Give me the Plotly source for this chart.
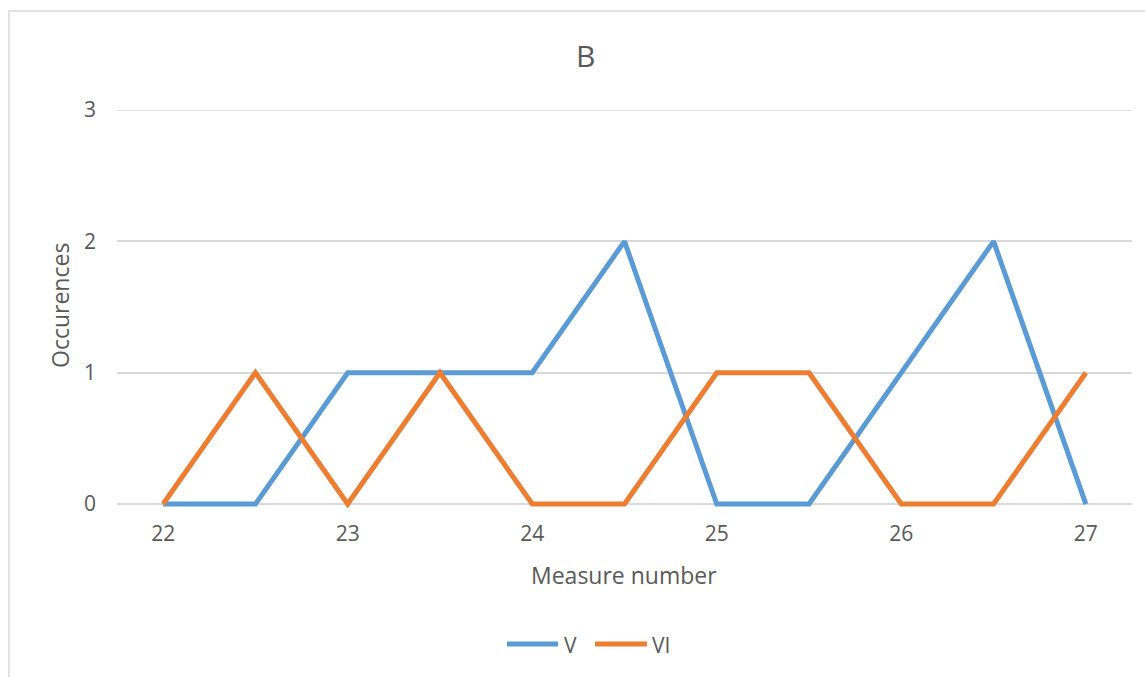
import plotly.graph_objects as go

# Measure positions (half-measure steps) and occurrence counts per chord
measures = [22, 22.5, 23, 23.5, 24, 24.5, 25, 25.5, 26, 26.5, 27]
v_counts = [0, 0, 1, 1, 1, 2, 0, 0, 1, 2, 0]
vi_counts = [0, 1, 0, 1, 0, 0, 1, 1, 0, 0, 1]
x_ticks = [22, 23, 24, 25, 26, 27]
y_ticks = [0, 1, 2, 3]

BLUE = "#5B9BD5"
ORANGE = "#ED7D31"
TEXT = "#595959"
GRID = "#D9D9D9"
FONT = "Open Sans"

W, H = 1145, 677
L, R, T, B = 117, 13, 110, 169
PW, PH = W - L - R, H - T - B


def px(x):
    return (x - L) / PW


def py(y):
    return (H - B - y) / PH


fig = go.Figure()
fig.add_trace(go.Scatter(x=measures, y=v_counts, mode="lines", name="V",
                         line=dict(color=BLUE, width=5)))
fig.add_trace(go.Scatter(x=measures, y=vi_counts, mode="lines", name="VI",
                         line=dict(color=ORANGE, width=5)))

shapes = [
    # chart-area border
    dict(type="rect", xref="paper", yref="paper", x0=px(9), x1=px(1200),
         y0=py(720), y1=py(11), line=dict(color=GRID, width=1.5), layer="below"),
    # legend samples
    dict(type="line", xref="paper", yref="paper", x0=px(507), x1=px(558),
         y0=py(644), y1=py(644), line=dict(color=BLUE, width=5)),
    dict(type="line", xref="paper", yref="paper", x0=px(595), x1=px(647),
         y0=py(644), y1=py(644), line=dict(color=ORANGE, width=5)),
]
# gridlines at the ends of the value range
for yv in (y_ticks[0], y_ticks[-1]):
    shapes.append(dict(type="line", xref="paper", yref="y", x0=0, x1=1,
                       y0=yv, y1=yv, line=dict(color=GRID, width=1.5),
                       layer="below"))

annotations = [
    dict(text="B", xref="paper", yref="paper", x=px(585), y=py(56),
         showarrow=False, font=dict(family=FONT, size=30, color=TEXT),
         xanchor="center", yanchor="middle"),
    dict(text="Measure number", xref="paper", yref="paper", x=px(624), y=py(575),
         showarrow=False, font=dict(family=FONT, size=23, color=TEXT),
         xanchor="center", yanchor="middle"),
    dict(text="Occurences", xref="paper", yref="paper", x=px(60), y=py(306),
         showarrow=False, textangle=-90, font=dict(family=FONT, size=23, color=TEXT),
         xanchor="center", yanchor="middle"),
    dict(text="V", xref="paper", yref="paper", x=px(562), y=py(645),
         showarrow=False, font=dict(family=FONT, size=21, color=TEXT),
         xanchor="left", yanchor="middle"),
    dict(text="VI", xref="paper", yref="paper", x=px(650), y=py(645),
         showarrow=False, font=dict(family=FONT, size=21, color=TEXT),
         xanchor="left", yanchor="middle"),
]

fig.update_layout(
    width=W, height=H,
    margin=dict(l=L, r=R, t=T, b=B, pad=0),
    paper_bgcolor="white", plot_bgcolor="white",
    showlegend=False,
    font=dict(family=FONT, color=TEXT, size=21),
    shapes=shapes,
    annotations=annotations,
)
fig.update_xaxes(range=[21.75, 27.25], tickvals=x_ticks, showgrid=False,
                 zeroline=False, showline=False, ticks="",
                 tickfont=dict(family=FONT, size=21, color=TEXT),
                 ticklabelstandoff=11, fixedrange=True)
# a little room below 0 so the lines lying on zero keep their full width
fig.update_yaxes(range=[-0.03, 3], tickvals=y_ticks, showgrid=True, gridcolor=GRID,
                 gridwidth=1.5, zeroline=False, showline=False, ticks="",
                 tickfont=dict(family=FONT, size=21, color=TEXT),
                 ticklabelstandoff=20, fixedrange=True)

fig.write_html("out.html", config=dict(displayModeBar=False))
